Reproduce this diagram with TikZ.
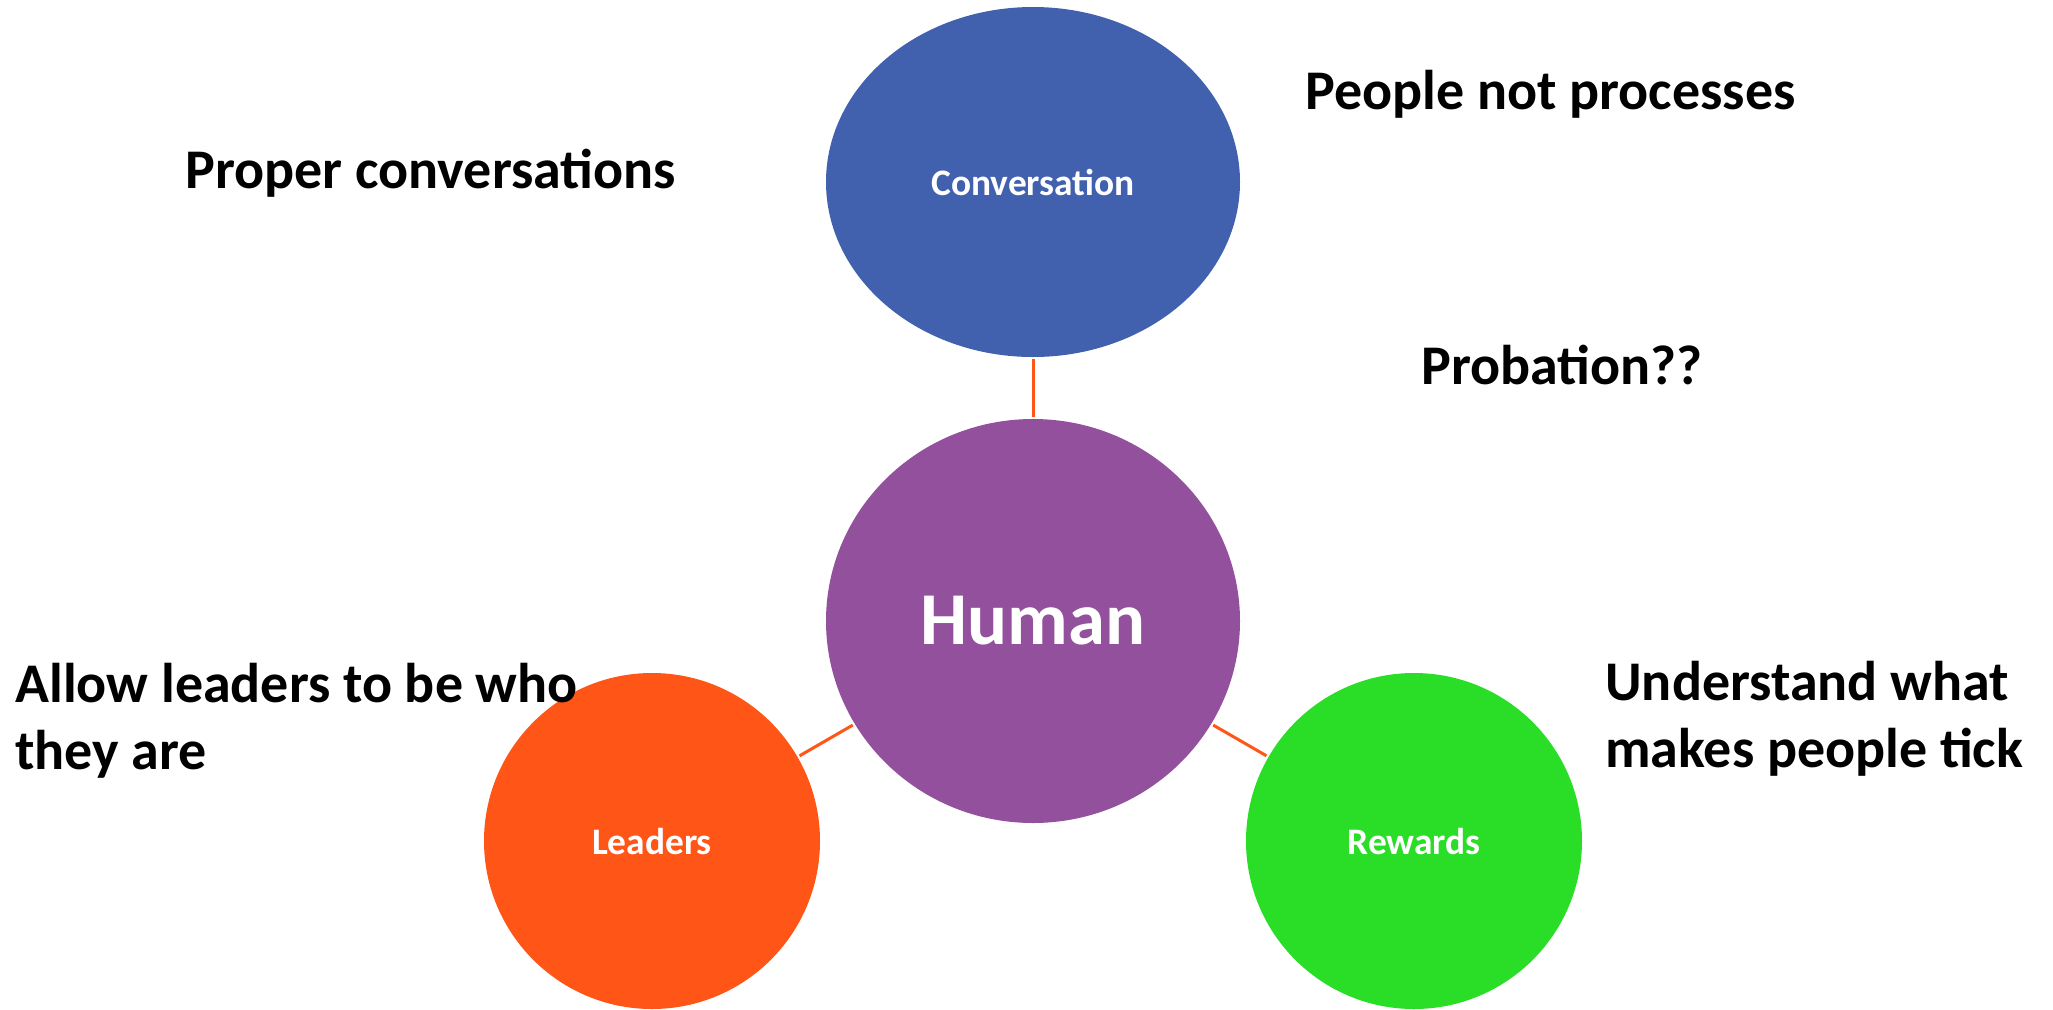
\documentclass[tikz,border=0pt]{standalone}
\usepackage{fontspec}
\setmainfont{Carlito}
\usetikzlibrary{shapes.geometric}

\definecolor{conversationBlue}{HTML}{4160AD}
\definecolor{humanPurple}{HTML}{93519D}
\definecolor{leadersOrange}{HTML}{FF5618}
\definecolor{rewardsGreen}{HTML}{2ADD27}

\begin{document}
\begin{tikzpicture} [
		x = 0.5pt,
		y = -0.5pt,
		bubble/.style = {
			ellipse,
			inner sep = 0pt,
			text = white,
			font = \bfseries\fontsize{18.7}{22}\selectfont,
		},
		human-bubble/.style = {
			fill = humanPurple,
			minimum width = 207pt,
			minimum height = 202pt,
			font = \bfseries\fontsize{37.3}{44}\selectfont,
		},
		conversation-bubble/.style = {
			fill = conversationBlue,
			minimum width = 207pt,
			minimum height = 175pt,
		},
		leaders-bubble/.style = {
			fill = leadersOrange,
			minimum width = 168pt,
			minimum height = 168pt,
		},
		rewards-bubble/.style = {
			fill = rewardsGreen,
			minimum width = 168pt,
			minimum height = 168pt,
		},
		line/.style = {
			draw = leadersOrange,
			line width = 1.5pt,
			shorten >= 1pt,
			shorten <= 1pt,
		},
		note/.style = {
			anchor = base west,
			inner sep = 0pt,
			align = left,
			font = \bfseries\fontsize{28}{33.5}\selectfont,
		}
	]

	\useasboundingbox (0,0) rectangle (2053,1009);

	% bubbles
	\node[bubble, human-bubble] (human) at (1033,621) {Human};
	\node[bubble, conversation-bubble] (conversation) at (1033,182) {Conversation};
	\node[bubble, leaders-bubble] (leaders) at (652,841) {Leaders};
	\node[bubble, rewards-bubble] (rewards) at (1414,841) {Rewards};

	\begin{scope} [
		every path/.style = line
		]
		\path (conversation) -- (human);
		\path (human) -- (leaders);
		\path (human) -- (rewards);
	\end{scope}

	% notes (base of a two-line note is its last line)
	\node[note] (properNote) at (185,188) {Proper conversations};
	\node[note] (peopleNote) at (1305,109) {People not processes};
	\node[note] (probationNote) at (1421,384) {Probation??};
	\node[note] (allowNote) at (15,769) {Allow leaders to be who\\they are};
	\node[note] (understandNote) at (1605,767) {Understand what\\makes people tick};
\end{tikzpicture}
\end{document}
